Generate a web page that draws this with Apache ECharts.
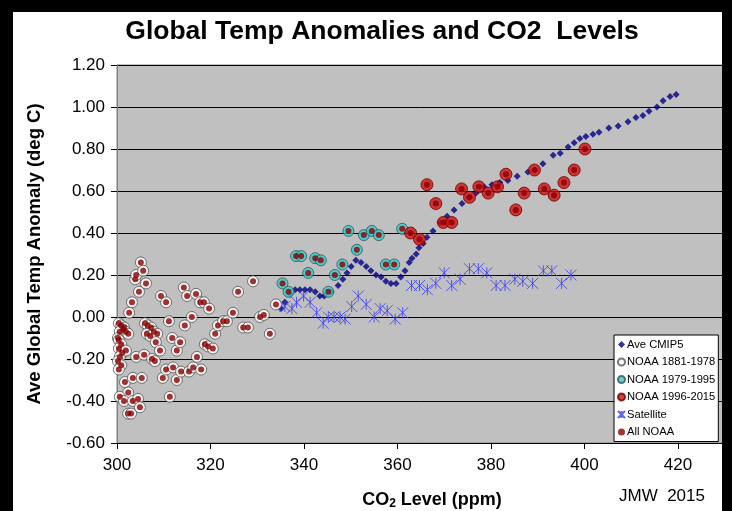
<!DOCTYPE html>
<html>
<head>
<meta charset="utf-8">
<script src="https://cdn.jsdelivr.net/npm/echarts@6/dist/echarts.min.js"></script>
<style>
html,body{margin:0;padding:0;background:#fff;}
#chart{width:732px;height:511px;}
</style>
</head>
<body>
<div id="chart"></div>
<script>
// ---- Data (CO2 ppm, anomaly deg C) ----
const xTicks = [300, 320, 340, 360, 380, 400, 420];
const yTicks = [-0.6, -0.4, -0.2, 0, 0.2, 0.4, 0.6, 0.8, 1.0, 1.2];

const noaaEarlyCO2 = [300.4,300.9,301.5,301.3,301.9,300.6,302.4,300.2,300.4,300.9,300.4,301.1,300.6,300.2,300.9,300.4,301.9,301.7,303.4,305.3,302.4,300.6,301.5,303.4,304.5,304.9,302.4,303.0,303.9,304.1,305.1,305.6,306.2,304.7,303.2,302.6,304.1,305.8,
  306.0,306.6,307.3,307.9,306.4,307.1,308.6,308.3,307.5,308.1,309.2,309.4,310.5,309.8,310.5,311.1,311.3,311.8,312.0,312.8,312.8,313.5,313.7,314.3,314.5,315.0,315.4,316.0,316.3,316.9,317.1,317.8,318.0,318.6,318.8,319.5,319.7,320.5,321.0,321.6,322.7,323.5,324.8,325.9,327.0,328.0,329.1,330.6,331.4,332.7,334.0];
const noaaEarlyAnom = [-0.03,-0.04,-0.05,-0.06,-0.07,-0.07,-0.08,-0.10,-0.11,-0.13,-0.15,-0.17,-0.19,-0.21,-0.23,-0.25,-0.16,-0.31,-0.29,-0.29,-0.36,-0.38,-0.40,-0.40,-0.39,-0.43,-0.46,-0.46,0.18,0.20,0.26,0.22,0.16,0.12,0.07,0.02,-0.19,-0.18,
  -0.03,-0.04,-0.05,-0.07,-0.08,-0.09,-0.08,-0.12,-0.20,-0.21,-0.16,0.10,0.07,-0.29,-0.25,-0.02,-0.38,-0.10,-0.24,-0.16,-0.30,-0.12,-0.26,0.14,-0.04,0.10,-0.26,0.00,-0.24,0.11,-0.19,0.07,-0.25,0.07,-0.13,-0.14,0.04,-0.15,-0.08,-0.04,-0.02,-0.02,0.02,0.12,-0.05,-0.05,0.17,0.00,0.01,-0.08,0.06];

const noaaMidCO2 = [335.4,336.7,338.3,339.4,340.9,342.4,343.6,345.2,346.6,348.2,349.5,351.3,352.8,354.5,356.0,357.5,359.3,361.0];
const noaaMidAnom = [0.16,0.12,0.29,0.29,0.21,0.28,0.27,0.12,0.20,0.25,0.41,0.32,0.39,0.41,0.39,0.25,0.25,0.42];

const noaaLateCO2 = [362.8,364.7,366.3,368.2,369.8,371.6,373.7,375.4,377.4,379.4,381.4,383.2,385.3,387.1,389.3,391.4,393.5,395.6,397.8,400.1];
const noaaLateAnom = [0.40,0.37,0.63,0.54,0.45,0.45,0.61,0.57,0.62,0.59,0.62,0.68,0.51,0.59,0.70,0.61,0.58,0.64,0.70,0.80];

const cmipCO2 = [335.1,335.9,337.0,338.1,339.1,340.2,341.3,342.4,343.4,344.3,345.8,347.3,348.3,349.2,350.1,351.1,352.2,353.3,354.3,355.4,356.5,357.5,358.6,359.7,360.7,361.6,362.5,363.1,364.0,364.6,365.5,366.3,367.6,369.1,370.6,372.1,373.8,375.3,376.8,378.5,380.2,381.9,383.6,385.6,387.9,389.4,391.1,393.3,394.8,396.5,397.8,399.0,400.3,401.8,403.1,405.2,407.2,409.3,411.0,412.5,413.8,415.5,416.8,418.3,419.6];
const cmipAnom = [0.04,0.07,0.11,0.13,0.13,0.13,0.13,0.12,0.10,0.10,0.12,0.15,0.18,0.21,0.24,0.27,0.26,0.24,0.22,0.20,0.19,0.17,0.16,0.16,0.19,0.22,0.26,0.28,0.30,0.33,0.35,0.38,0.41,0.45,0.48,0.51,0.54,0.57,0.59,0.62,0.63,0.64,0.65,0.67,0.69,0.70,0.73,0.77,0.78,0.81,0.83,0.85,0.86,0.87,0.88,0.90,0.91,0.93,0.95,0.96,0.98,1.00,1.03,1.05,1.06];

const satCO2 = [335.9,337.4,338.4,339.9,341.3,342.7,344.1,345.2,346.4,347.7,348.8,350.2,351.6,353.3,355.0,356.3,357.8,359.5,361.1,363.0,364.7,366.4,368.2,370.0,371.6,373.4,375.4,377.3,379.1,381.1,383.0,385.1,386.8,388.9,391.2,393.0,395.1,397.1];
const satAnom = [0.05,0.04,0.07,0.10,0.07,0.02,-0.03,0.00,0.00,0.00,-0.01,0.05,0.10,0.06,0.00,0.04,0.03,-0.01,0.02,0.15,0.15,0.13,0.16,0.21,0.15,0.18,0.23,0.23,0.21,0.15,0.15,0.18,0.17,0.16,0.22,0.22,0.16,0.20];

const legendNames = ['Ave CMIP5','NOAA 1881-1978','NOAA 1979-1995','NOAA 1996-2015','Satellite','All NOAA'];

// ---- build pairs ----
const zip = (a, b) => a.map((v, i) => [v, b[i]]);
const allNoaa = zip(noaaEarlyCO2, noaaEarlyAnom).concat(zip(noaaMidCO2, noaaMidAnom), zip(noaaLateCO2, noaaLateAnom));

const FONT = 'Liberation Sans, Arial, sans-serif';
const chart = echarts.init(document.getElementById('chart'), null, {renderer: 'canvas'});

chart.setOption({
  animation: false,
  backgroundColor: '#ffffff',
  grid: {
    left: 117, top: 65, width: 607.75, height: 378,
    show: true, backgroundColor: '#c0c0c0', borderColor: '#808080', borderWidth: 1
  },
  xAxis: {
    type: 'value', min: 300, max: 430, interval: 20,
    axisLine: {show: true, onZero: false, lineStyle: {color: '#000', width: 1}},
    axisTick: {show: true, length: 6, lineStyle: {color: '#000'}},
    axisLabel: {
      margin: 14, color: '#000', fontSize: 17, fontFamily: FONT,
      formatter: v => (xTicks.indexOf(v) >= 0 ? String(v) : '')
    },
    splitLine: {show: false}
  },
  yAxis: {
    type: 'value', min: -0.6, max: 1.2, interval: 0.2,
    name: 'Ave Global Temp Anomaly (deg C)', nameLocation: 'middle', nameGap: 73,
    nameTextStyle: {fontSize: 18.5, fontWeight: 'bold', color: '#000', fontFamily: FONT},
    axisLine: {show: true, lineStyle: {color: '#808080', width: 1}},
    axisTick: {show: true, length: 6, lineStyle: {color: '#000'}},
    axisLabel: {
      margin: 12, color: '#000', fontSize: 17, fontFamily: FONT,
      formatter: v => {
        const t = yTicks.find(k => Math.abs(k - v) < 1e-6);
        return t === undefined ? '' : t.toFixed(2);
      }
    },
    splitLine: {show: true, lineStyle: {color: '#000', width: 1}}
  },
  legend: {
    orient: 'vertical', left: 614, top: 335,
    width: 100,
    backgroundColor: '#ffffff', borderColor: '#000', borderWidth: 1,
    padding: [4, 3, 4, 3], itemGap: 6.5, itemWidth: 7, itemHeight: 7,
    textStyle: {fontSize: 11.2, color: '#000', fontFamily: FONT, padding: [0, 0, 0, -3]},
    data: legendNames
  },
  series: [
    {
      name: 'Ave CMIP5', type: 'scatter', data: zip(cmipCO2, cmipAnom),
      symbol: 'diamond', symbolSize: 7,
      itemStyle: {color: '#000080'}, z: 2
    },
    {
      name: 'Satellite', type: 'scatter', data: zip(satCO2, satAnom),
      symbol: 'path://M0,0L10,10M0,10L10,0M5,0L5,10', symbolSize: 11,
      itemStyle: {color: 'rgba(0,0,0,0)', borderColor: '#3b3bf5', borderWidth: 1}, z: 2
    },
    {
      name: 'NOAA 1881-1978', type: 'scatter', data: zip(noaaEarlyCO2, noaaEarlyAnom),
      symbol: 'circle', symbolSize: 11,
      itemStyle: {color: '#ffffff', borderColor: '#555555', borderWidth: 1}, z: 3
    },
    {
      name: 'NOAA 1979-1995', type: 'scatter', data: zip(noaaMidCO2, noaaMidAnom),
      symbol: 'circle', symbolSize: 11,
      itemStyle: {color: '#33cccc', borderColor: '#335555', borderWidth: 1}, z: 3
    },
    {
      name: 'NOAA 1996-2015', type: 'scatter', data: zip(noaaLateCO2, noaaLateAnom),
      symbol: 'circle', symbolSize: 12,
      itemStyle: {color: '#d01010', borderColor: '#6a0000', borderWidth: 1}, z: 3
    },
    {
      name: 'All NOAA', type: 'scatter', data: allNoaa,
      symbol: 'circle', symbolSize: 6,
      itemStyle: {color: '#8b0000'}, z: 4
    }
  ],
  graphic: [
    {type: 'text', x: 382, y: 32, z: 10,
      style: {text: 'Global Temp Anomalies and CO2  Levels', align: 'center', verticalAlign: 'middle', fill: '#000', font: 'bold 26.5px ' + FONT}},
    {type: 'text', z: 10, x: 432, y: 500,
      style: {
        text: '{a|CO}{s|2}{a| Level (ppm)}', align: 'center', verticalAlign: 'middle',
        rich: {
          a: {fontSize: 18, fontWeight: 'bold', fontFamily: FONT, fill: '#000', color: '#000'},
          s: {fontSize: 12, fontWeight: 'bold', fontFamily: FONT, color: '#000', padding: [7, 0, 0, 0]}
        }
      }},
    {type: 'text', z: 10, x: 662, y: 496,
      style: {text: 'JMW  2015', align: 'center', verticalAlign: 'middle', fill: '#000', font: '17px ' + FONT}},
    {type: 'rect', z: 20, shape: {x: 0, y: 0, width: 732, height: 12}, style: {fill: '#000'}},
    {type: 'rect', z: 20, shape: {x: 0, y: 0, width: 13, height: 511}, style: {fill: '#000'}},
    {type: 'rect', z: 20, shape: {x: 722, y: 0, width: 10, height: 511}, style: {fill: '#000'}}
  ]
});
</script>
</body>
</html>
